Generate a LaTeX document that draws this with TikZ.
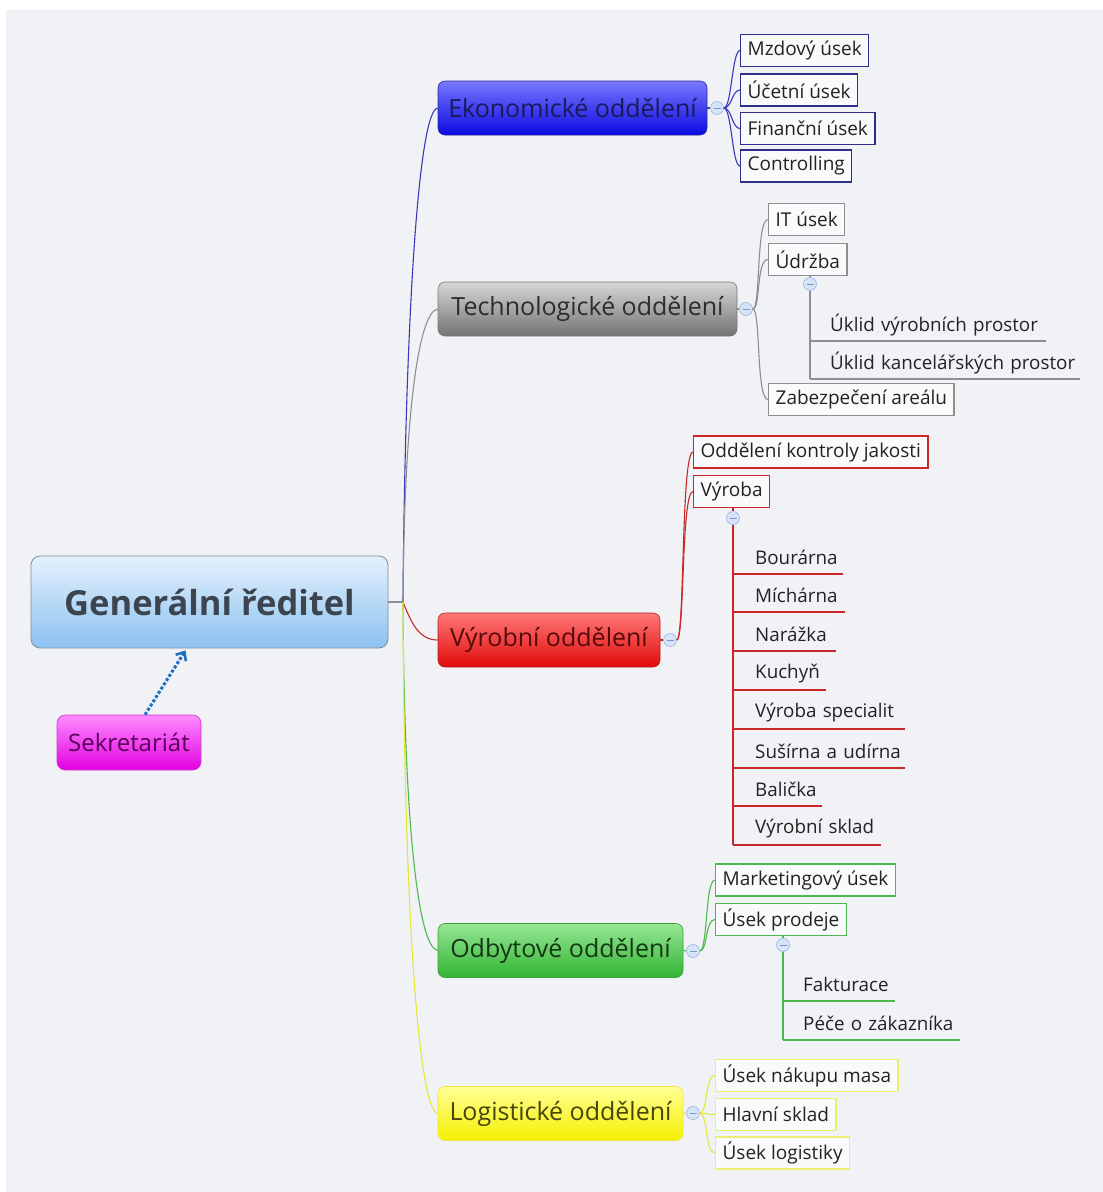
\documentclass[tikz,border=0pt]{standalone}
\usepackage{fontspec}
\setmainfont{Open Sans}
\usetikzlibrary{arrows.meta}
\definecolor{bgc}{HTML}{F1F2F6}
\definecolor{ecol}{HTML}{2E2E8C}
\definecolor{eline}{HTML}{3A3AB8}
\definecolor{tcol}{HTML}{8E8E8E}
\definecolor{rcol}{HTML}{C82828}
\definecolor{gcol}{HTML}{4EB84E}
\definecolor{ycol}{HTML}{E6E638}
\definecolor{ybox}{HTML}{EEEE70}
\definecolor{arrowc}{HTML}{1E6EC0}
\definecolor{tgray}{HTML}{222222}
\definecolor{roottop}{HTML}{E4F0FC}
\definecolor{rootbot}{HTML}{8CC2F0}
\definecolor{rootdraw}{HTML}{828C9B}
\definecolor{roottext}{HTML}{3C4450}
\definecolor{sektop}{HTML}{FF8CFF}
\definecolor{sekbot}{HTML}{E100E1}
\definecolor{sekdraw}{HTML}{C83CC8}
\definecolor{sektext}{HTML}{5A005A}
\definecolor{ekotop}{HTML}{7878FF}
\definecolor{ekobot}{HTML}{0A0AE1}
\definecolor{ekodraw}{HTML}{2828A0}
\definecolor{ekotext}{HTML}{1A1A5A}
\definecolor{tectop}{HTML}{D7D7D7}
\definecolor{tecbot}{HTML}{737373}
\definecolor{tecdraw}{HTML}{787878}
\definecolor{tectext}{HTML}{2D2D2D}
\definecolor{vyrtop}{HTML}{FF7878}
\definecolor{vyrbot}{HTML}{E10A0A}
\definecolor{vyrdraw}{HTML}{B41E1E}
\definecolor{vyrtext}{HTML}{550A0A}
\definecolor{odbtop}{HTML}{96E696}
\definecolor{odbbot}{HTML}{32B432}
\definecolor{odbdraw}{HTML}{3CA03C}
\definecolor{odbtext}{HTML}{143714}
\definecolor{logtop}{HTML}{FFFF96}
\definecolor{logbot}{HTML}{F5F000}
\definecolor{logdraw}{HTML}{EBE63C}
\definecolor{logtext}{HTML}{46460A}
\definecolor{folddraw}{HTML}{96B4E1}
\definecolor{foldfill}{HTML}{D7E4F8}
\definecolor{foldline}{HTML}{7896C8}
\tikzset{
  rootbox/.style={rounded corners=9pt, top color=roottop, bottom color=rootbot, draw=rootdraw, line width=0.8pt, minimum width=357, minimum height=92, font=\fontsize{34.5}{38}\selectfont\bfseries, text=roottext},
  secbox/.style={rounded corners=8pt, top color=sektop, bottom color=sekbot, draw=sekdraw, line width=0.6pt, minimum width=144, minimum height=55, font=\fontsize{24}{27}\selectfont, text=sektext},
  branch/.style={rounded corners=7pt, minimum height=54, line width=0.6pt, font=\fontsize{25}{28}\selectfont},
  ekob/.style={branch, top color=ekotop, bottom color=ekobot, draw=ekodraw, text=ekotext},
  tecb/.style={branch, top color=tectop, bottom color=tecbot, draw=tecdraw, text=tectext},
  vyrb/.style={branch, top color=vyrtop, bottom color=vyrbot, draw=vyrdraw, text=vyrtext},
  odbb/.style={branch, top color=odbtop, bottom color=odbbot, draw=odbdraw, text=odbtext},
  logb/.style={branch, top color=logtop, bottom color=logbot, draw=logdraw, text=logtext},
  subbox/.style={anchor=west, fill=white!60!bgc, line width=1.3pt, inner xsep=7pt, minimum height=32, font=\fontsize{19}{22}\selectfont, text=tgray},
  esub/.style={subbox, draw=ecol},
  tsub/.style={subbox, draw=tcol},
  rsub/.style={subbox, draw=rcol},
  gsub/.style={subbox, draw=gcol},
  ysub/.style={subbox, draw=ybox},
  leaf/.style 2 args={anchor=south west, inner xsep=0pt, inner ysep=0pt, minimum height=32, text width=#1, align=left, font=\fontsize{18.8}{22}\selectfont, text=tgray, execute at begin node={\hspace*{#2}}},
  fold/.style={circle, draw=folddraw, fill=foldfill, line width=0.6pt, minimum size=13, inner sep=0pt, path picture={\draw[foldline, line width=0.7pt] ([xshift=-3.5pt]path picture bounding box.center) -- ([xshift=3.5pt]path picture bounding box.center);}},
  conn/.style={line width=1.1pt},
}
\begin{document}
\begin{tikzpicture}[x=1pt,y=-1pt]
\fill[white] (0,0) rectangle (1103,1192);
\fill[bgc] (6,10) rectangle (1103,1192);
\useasboundingbox (0,0) rectangle (1103,1192);

% root
\node[rootbox] (root) at (209.5,602) {Generální ředitel};
\node[secbox] (sek) at (129,742.5) {Sekretariát};
\coordinate (sa) at ([xshift=16pt]sek.north);
\draw[arrowc, line width=3pt, dotted, -{Straight Barb[length=7pt,width=12pt,line width=2.5pt]}] (sa) -- ([xshift=-24pt,yshift=-2pt]root.south);

\coordinate (J) at (403,602);
\draw[tcol, conn] (root.east) -- (J);

% branches
\node[ekob, minimum width=269] (eko) at (572.5,108) {Ekonomické oddělení};
\node[tecb, minimum width=299] (tec) at (587.5,309) {Technologické oddělení};
\node[vyrb, minimum width=222] (vyr) at (549,640) {Výrobní oddělení};
\node[odbb, minimum width=245] (odb) at (560.5,950.5) {Odbytové oddělení};
\node[logb, minimum width=245] (log) at (560.5,1113.5) {Logistické oddělení};

\draw[eline, conn] (J) .. controls (405,330) and (418,110) .. (eko.west);
\draw[tcol, conn] (J) .. controls (404,420) and (418,312) .. (tec.west);
\draw[rcol, conn] (J) .. controls (412,625) and (420,640) .. (vyr.west);
\draw[gcol, conn] (J) .. controls (404,820) and (418,948) .. (odb.west);
\draw[ycol, conn] (J) .. controls (404,900) and (418,1110) .. (log.west);

% fold markers
\node[fold] (feko) at (717,108) {};
\node[fold] (ftec) at (746,309) {};
\node[fold] (fvyr) at (670,640) {};
\node[fold] (fodb) at (693,951) {};
\node[fold] (flog) at (693,1113) {};
\draw[eline, conn] (eko.east) -- (feko.west);
\draw[tcol, conn] (tec.east) -- (ftec.west);
\draw[rcol, conn] (vyr.east) -- (fvyr.west);
\draw[gcol, conn] (odb.east) -- (fodb.west);
\draw[ycol, conn] (log.east) -- (flog.west);

% Ekonomicke subs
\node[esub] (e1) at (740,50.5) {Mzdový úsek};
\node[esub] (e2) at (740,90) {Účetní úsek};
\node[esub] (e3) at (740,128.5) {Finanční úsek};
\node[esub] (e4) at (740,166) {Controlling};
\foreach \n in {e1,e2,e3,e4}
  \draw[eline, conn] (feko.east) .. controls +(8,0) and +(-8,0) .. (\n.west);

% Technologicke subs
\node[tsub] (t1) at (768,219.5) {IT úsek};
\node[tsub] (t2) at (768,259.5) {Údržba};
\node[tsub] (t3) at (768,399.5) {Zabezpečení areálu};
\foreach \n in {t1,t2,t3}
  \draw[tcol, conn] (ftec.east) .. controls +(8,0) and +(-12,0) .. (\n.west);
\node[fold] (fudr) at (810,284) {};
\draw[tcol, conn] (t2.south -| fudr) -- (fudr.north);
\node[leaf={236}{20pt}] (u1) at (810,341) {Úklid výrobních prostor};
\node[leaf={270}{20pt}] (u2) at (810,379) {Úklid kancelářských prostor};
\draw[tcol, conn] (fudr.south) -- (u2.south west);
\foreach \n in {u1,u2}
  \draw[tcol, conn] (\n.south west) -- (\n.south east);

% Vyrobni subs
\node[rsub] (r1) at (693,452) {Oddělení kontroly jakosti};
\node[rsub] (r2) at (693,491.5) {Výroba};
\foreach \n in {r1,r2}
  \draw[rcol, conn] (fvyr.east) .. controls +(8,0) and +(-12,0) .. (\n.west);
\node[fold] (fvyb) at (733,518) {};
\draw[rcol, conn] (r2.south -| fvyb) -- (fvyb.north);
\node[leaf={110}{22pt}] (v1) at (733,574) {Bourárna};
\node[leaf={112}{22pt}] (v2) at (733,612) {Míchárna};
\node[leaf={103}{22pt}] (v3) at (733,651) {Narážka};
\node[leaf={93}{22pt}] (v4) at (733,690) {Kuchyň};
\node[leaf={172}{22pt}] (v5) at (733,729) {Výroba specialit};
\node[leaf={172}{22pt}] (v6) at (733,768) {Sušírna a udírna};
\node[leaf={89}{22pt}] (v7) at (733,806) {Balička};
\node[leaf={148}{22pt}] (v8) at (733,845) {Výrobní sklad};
\draw[rcol, line width=2.4pt] (fvyb.south) -- (v8.south west);
\foreach \n in {v1,v2,v3,v4,v5,v6,v7,v8}
  \draw[rcol, conn] (\n.south west) -- (\n.south east);

% Odbytove subs
\node[gsub] (g1) at (715,880) {Marketingový úsek};
\node[gsub] (g2) at (715,919.5) {Úsek prodeje};
\foreach \n in {g1,g2}
  \draw[gcol, conn] (fodb.east) .. controls +(8,0) and +(-10,0) .. (\n.west);
\node[fold] (fpro) at (783,945) {};
\draw[gcol, conn] (g2.south -| fpro) -- (fpro.north);
\node[leaf={112}{20pt}] (o1) at (783,1001) {Fakturace};
\node[leaf={177}{20pt}] (o2) at (783,1040) {Péče o zákazníka};
\draw[gcol, conn] (fpro.south) -- (o2.south west);
\foreach \n in {o1,o2}
  \draw[gcol, conn] (\n.south west) -- (\n.south east);

% Logisticke subs
\node[ysub] (y1) at (715,1075.5) {Úsek nákupu masa};
\node[ysub] (y2) at (715,1114.5) {Hlavní sklad};
\node[ysub] (y3) at (715,1153) {Úsek logistiky};
\foreach \n in {y1,y2,y3}
  \draw[ycol, conn] (flog.east) .. controls +(8,0) and +(-10,0) .. (\n.west);
\end{tikzpicture}
\end{document}
